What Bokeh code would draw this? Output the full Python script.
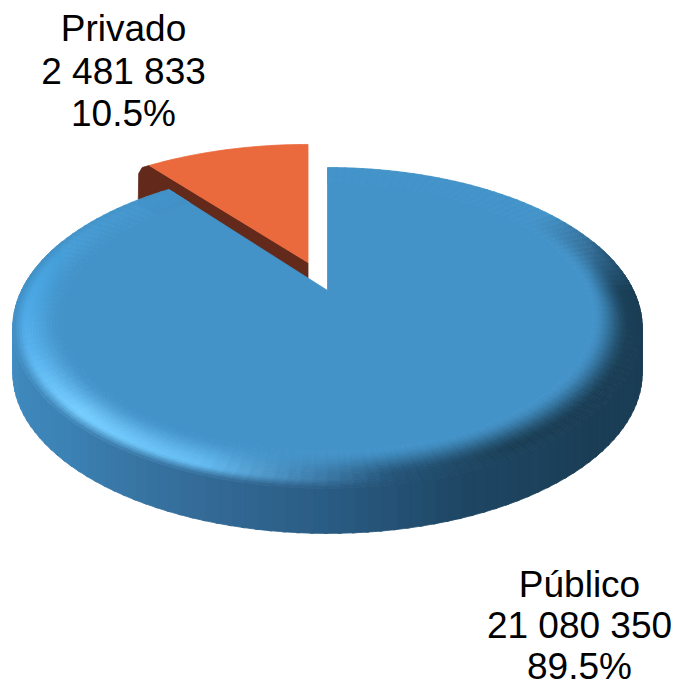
import numpy as np
from bokeh.plotting import figure
from bokeh.models import Range1d, ColumnDataSource
from bokeh.core.properties import value
from bokeh.embed import file_html
from bokeh.resources import INLINE

categories = ["Público", "Privado"]
values_ = [21080350, 2481833]
value_labels = ["21 080 350", "2 481 833"]
pct_labels = ["89.5%", "10.5%"]

BASE = (67, 147, 201)
ORANGE = "#EA6A3E"
BROWN = "#63291A"

CX, CY = 327.0, 290.0
R, A, K = 306.0, 151.7, 0.2336
DEPTH = 45.0
BEVEL0 = 0.85

W, H = 677, 686
p = figure(width=W, height=H, output_backend="svg", toolbar_location=None,
           x_range=Range1d(0, W), y_range=Range1d(H, 0),
           min_border=0, outline_line_color=None, background_fill_color="white",
           border_fill_color="white")
p.xaxis.visible = False
p.yaxis.visible = False
p.grid.visible = False


def proj(theta_deg, r=1.0):
    t = np.radians(theta_deg)
    u, v = r * np.sin(t), r * np.cos(t)
    d = 1 + K * v
    return CX + R * u / d, CY - A * v / d


TOP_T = [0, 55, 75, 90, 120, 150, 170, 182, 200, 225, 250, 270, 300, 330, 360]
TOP_C = [BASE, BASE, (50, 105, 145), (27, 64, 88), (26, 62, 85), (26, 62, 85), (36, 84, 120),
         (62, 125, 172), (100, 188, 242), (118, 206, 255), (86, 176, 236), (74, 166, 226),
         (68, 152, 208), BASE, BASE]
SIDE_T = [0, 55, 75, 90, 135, 160, 180, 200, 225, 260, 280, 310, 360]
SIDE_C = [BASE, BASE, (40, 90, 125), (26, 62, 85), (26, 62, 85), (30, 70, 100), (42, 92, 132),
          (52, 108, 152), (60, 130, 180), (66, 142, 196), (66, 145, 198), BASE, BASE]


def interp(table_t, table_c, th):
    return np.array([np.interp(th, table_t, [c[i] for c in table_c]) for i in range(3)])


def hexc(c):
    return "#%02x%02x%02x" % tuple(int(round(min(255, max(0, x)))) for x in c)


def bevel_color(th, t):
    target = interp(TOP_T, TOP_C, th)
    side = interp(SIDE_T, SIDE_C, th)
    base = np.array(BASE, float)
    if t < 0.78:
        s = t / 0.78
        s = s * s * (3 - 2 * s)
        return base + (target - base) * s
    s = (t - 0.78) / 0.22
    return target + (side - target) * s


total = sum(values_)
pub_sweep = values_[0] / total * 360.0   # Público runs clockwise from 12 o'clock

xs, ys, cols = [], [], []


def add(x, y, c):
    xs.append(list(x))
    ys.append(list(y))
    cols.append(c)


# --- Privado (exploded): drawn first so that Público hides its lower side
DX, SY, AY = -19.5, 0.96, 262.0


def proj_priv(th):
    x, y = proj(th)
    return x + DX, AY + (y - CY) * SY


th_priv = np.linspace(pub_sweep, 360, 30)
px, py = zip(*[proj_priv(t) for t in th_priv])
ax, ay = CX + DX, AY
tipx, tipy = proj_priv(pub_sweep)
add([ax, tipx, tipx - 7, tipx - 10.5, tipx - 11, tipx + 10, ax],
    [ay, tipy, tipy + 2, tipy + 8, tipy + 40, tipy + 50, ay + 40], BROWN)
add([ax] + list(px), [ay] + list(py), ORANGE)

# --- Público side wall
ths = np.arange(70, 292, 2.0)
for a, b in zip(ths[:-1], ths[1:]):
    x0, y0 = proj(a)
    x1, y1 = proj(b + 0.5)
    add([x0, x1, x1, x0], [y0, y1, y1 + DEPTH, y0 + DEPTH], hexc(interp(SIDE_T, SIDE_C, (a + b) / 2)))

# --- Público top: flat centre, then shaded rim rings
thp = np.linspace(0, pub_sweep, 180)
fx, fy = proj(thp, BEVEL0)
add([CX] + list(fx), [CY] + list(fy), hexc(BASE))
rings = np.linspace(BEVEL0, 1.0, 19)
tha = np.arange(0, pub_sweep, 2.0)
for i in range(len(rings) - 1):
    r0, r1 = rings[i], rings[i + 1]
    t = (i + 0.5) / (len(rings) - 1)
    for a in tha:
        b = min(a + 2.2, pub_sweep)
        xa0, ya0 = proj(a, r0)
        xb0, yb0 = proj(b, r0)
        xa1, ya1 = proj(a, r1)
        xb1, yb1 = proj(b, r1)
        add([xa0, xb0, xb1, xa1], [ya0, yb0, yb1, ya1], hexc(bevel_color(a + 1, t)))

src = ColumnDataSource(dict(xs=xs, ys=ys, c=cols))
p.patches("xs", "ys", source=src, fill_color="c", line_color="c", line_width=0.8)

font = value("Liberation Sans")
for cx, y0, step, idx in [(123, 28, 42.5, 1), (579, 584, 41, 0)]:
    lines = [categories[idx], value_labels[idx], pct_labels[idx]]
    for j, s in enumerate(lines):
        p.text([cx], [y0 + j * step], text=[s], text_font=font, text_font_size="37px",
               text_align="center", text_baseline="alphabetic", text_color="black")

open("out.html", "w").write(file_html(p, INLINE))
